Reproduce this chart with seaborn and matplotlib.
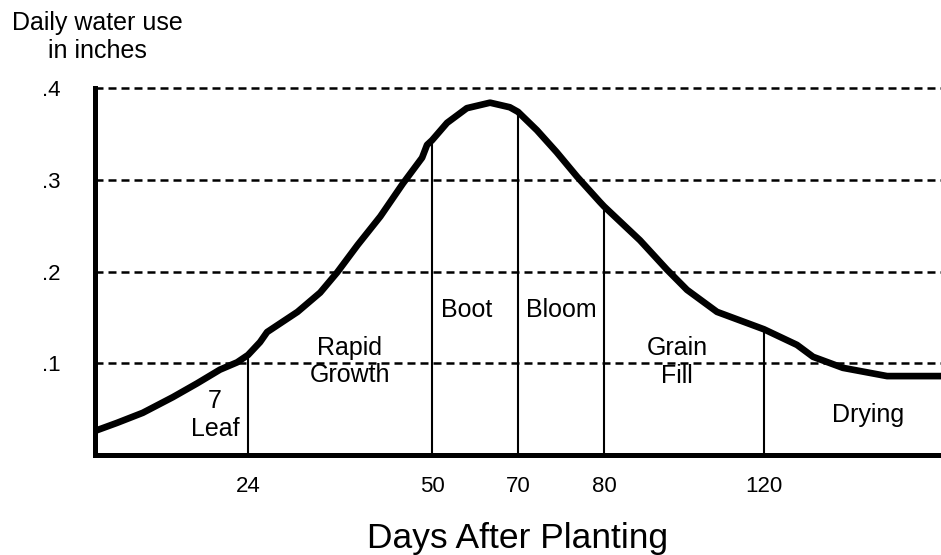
import numpy as np
import pandas as pd
import seaborn as sns
from matplotlib import pyplot as plt

# curve: days after planting vs daily water use (inches)
days = [0.3, 3.45, 7.5, 12.2, 16.0, 19.6, 22.3, 24, 25.7, 26.7, 31.0, 34.2,
        36.6, 39.5, 42.7, 45.9, 48.6, 49.3, 50, 53.5, 58.1, 63.5, 68.1, 70,
        72.2, 74.5, 76.9, 79.5, 80, 89, 95.75, 100.75, 108.25, 120, 128.2,
        132.2, 139.6, 150.6, 164]
water = [0.027, 0.035, 0.046, 0.063, 0.078, 0.093, 0.101, 0.109, 0.123, 0.134,
         0.156, 0.177, 0.199, 0.229, 0.260, 0.296, 0.324, 0.338, 0.343, 0.362,
         0.378, 0.384, 0.379, 0.374, 0.354, 0.330, 0.303, 0.276, 0.271, 0.234,
         0.202, 0.180, 0.156, 0.137, 0.120, 0.107, 0.095, 0.086, 0.086]

stage_days = [24, 50, 70, 80, 120]
y_ticks = [0.1, 0.2, 0.3, 0.4]
y_tick_labels = [".1", ".2", ".3", ".4"]

stage_labels = ["7\nLeaf", "Rapid\nGrowth", "Boot", "Bloom", "Grain\nFill", "Drying"]
stage_label_x = [18.8, 38.4, 58.1, 75.0, 98.25, 145.75]
stage_label_y = [0.044, 0.102, 0.158, 0.158, 0.101, 0.044]

df = pd.DataFrame({"days": days, "water": water})

sns.set_style("white")
plt.rcParams['font.family'] = ['Liberation Sans', 'DejaVu Sans']
plt.rcParams['text.color'] = 'black'
plt.rcParams['axes.labelcolor'] = 'black'
plt.rcParams['xtick.color'] = 'black'
plt.rcParams['ytick.color'] = 'black'

fig = plt.figure(figsize=(9.41, 5.55), dpi=100)
ax = fig.add_axes([95 / 941, 1 - 455 / 555, 1 - 95 / 941, (455 - 88) / 555])

# the original drawing is not to scale: piecewise day -> position mapping
knot_days = [0, 24, 50, 70, 80, 120, 164]
knot_pos = [0, 153, 337, 423, 509, 669, 846]


def fwd(x):
    return np.interp(x, knot_days, knot_pos)


def inv(p):
    return np.interp(p, knot_pos, knot_days)


ax.set_xscale("function", functions=(fwd, inv))
ax.set_xlim(0, 164)
ax.set_ylim(0, 0.4)

ax.hlines(y_ticks, 0, 164, colors="black", linewidth=1.8,
          linestyles=(0, (3.2, 2.0)), clip_on=False, zorder=1)

stage_tops = np.interp(stage_days, days, water)
ax.vlines(stage_days, 0, stage_tops, colors="black", linewidth=1.5, zorder=2)

sns.lineplot(data=df, x="days", y="water", color="black", linewidth=4.8,
             ax=ax, zorder=3, solid_capstyle="round", solid_joinstyle="round")

for lab, lx, ly in zip(stage_labels, stage_label_x, stage_label_y):
    ax.text(lx, ly, lab, ha="center", va="center", fontsize=18, linespacing=1.2)

ax.set_xticks(stage_days)
ax.set_xticklabels([str(d) for d in stage_days], fontsize=16)
ax.set_yticks(y_ticks)
ax.set_yticklabels(y_tick_labels, fontsize=16)
ax.tick_params(axis="x", length=0, pad=15)
ax.tick_params(axis="y", length=0, pad=25)

for s in ["top", "right"]:
    ax.spines[s].set_visible(False)
for s in ["left", "bottom"]:
    ax.spines[s].set_linewidth(3.6)
    ax.spines[s].set_color("black")
    ax.spines[s].set_capstyle("projecting")

ax.set_xlabel("Days After Planting", fontsize=25.5, labelpad=18)
ax.set_ylabel("")

fig.text(97 / 941, 1 - 37 / 555, "Daily water use\nin inches", ha="center", va="center",
         fontsize=18, linespacing=1.2)

fig.savefig("out.png", dpi=100)
